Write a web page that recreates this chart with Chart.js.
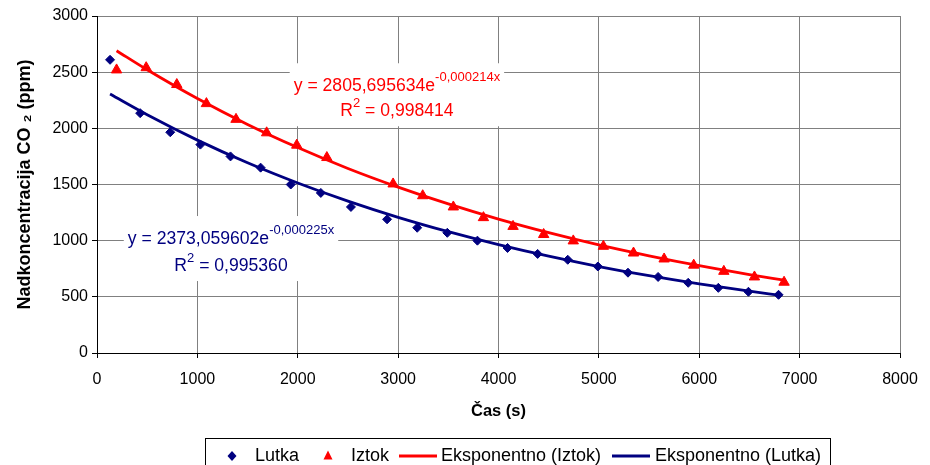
<!DOCTYPE html>
<html><head><meta charset="utf-8">
<script src="https://cdn.jsdelivr.net/npm/chart.js@4"></script>
<style>html,body{margin:0;padding:0;background:#fff}#wrap{width:930px;height:465px}</style>
</head><body><div id="wrap"><canvas id="c" width="930" height="465"></canvas></div>
<script>
// ---- data ----
const lutkaTime = [130,430,730,1030,1330,1630,1930,2230,2530,2890,3190,3490,3790,4090,4390,4690,4990,5290,5590,5890,6190,6490,6790];
const lutkaCO2  = [2610,2135,1965,1855,1750,1650,1500,1425,1300,1190,1115,1070,1000,935,882,830,770,715,677,625,580,545,518];
const iztokTime = [195,490,795,1090,1385,1690,1990,2290,2950,3245,3550,3850,4145,4450,4745,5045,5345,5650,5945,6245,6550,6845];
const iztokCO2  = [2520,2540,2390,2220,2080,1960,1850,1740,1505,1400,1300,1205,1127,1055,998,950,890,837,782,727,677,630];
// trend curves
const trendIztokTime = [195,500,1000,1500,2000,2500,3000,3500,4000,4500,5000,5500,6000,6500,6845];
const trendIztokCO2  = [2691,2521,2265,2035,1829,1643,1477,1327,1192,1071,962,865,777,698,648];
const trendLutkaTime = [130,500,1000,1500,2000,2500,3000,3500,4000,4500,5000,5500,6000,6500,6790];
const trendLutkaCO2  = [2305,2121,1895,1693,1513,1352,1208,1080,965,862,770,688,615,550,515];
// axis ticks
const xTicks = [0,1000,2000,3000,4000,5000,6000,7000,8000];
const yTicks = [0,500,1000,1500,2000,2500,3000];
// labels
const seriesNames = ['Lutka','Iztok','Eksponentno (Iztok)','Eksponentno (Lutka)'];
const eqIztok = {main:'y = 2805,695634e', sup:'-0,000214x', r:'R', rsup:'2', rrest:' = 0,998414'};
const eqLutka = {main:'y = 2373,059602e', sup:'-0,000225x', r:'R', rsup:'2', rrest:' = 0,995360'};

const RED = '#FF0000', NAVY = '#000080';
const FONT = '"Liberation Sans", Arial, sans-serif';

const toXY = (xs, ys) => xs.map((x, i) => ({x, y: ys[i]}));

const eqPlugin = {
  id: 'eqPlugin',
  afterDatasetsDraw(chart) {
    const ctx = chart.ctx, xs = chart.scales.x, ys = chart.scales.y;
    const items = [
      {eq: eqIztok, color: RED, cx: xs.getPixelForValue(2988), by: ys.getPixelForValue(2330), gap: 25},
      {eq: eqLutka, color: NAVY, cx: xs.getPixelForValue(1335), by: ys.getPixelForValue(970), gap: 27}
    ];
    items.forEach(it => {
      ctx.save();
      const mainF = '17.6px ' + FONT, supF = '13px ' + FONT;
      ctx.font = mainF; const w1 = ctx.measureText(it.eq.main).width;
      const wr = ctx.measureText(it.eq.r).width, wrr = ctx.measureText(it.eq.rrest).width;
      ctx.font = supF; const ws = ctx.measureText(it.eq.sup).width, wrs = ctx.measureText(it.eq.rsup).width;
      const W1 = w1 + ws, W2 = wr + wrs + wrr;
      const x1 = it.cx - W1 / 2, x2 = it.cx - W2 / 2;
      const b1 = it.by, b2 = it.by + it.gap;
      ctx.fillStyle = '#fff';
      ctx.fillRect(x1 - 4, b1 - 28, W1 + 8, (b2 + 10) - (b1 - 28));
      ctx.fillStyle = it.color;
      ctx.textBaseline = 'alphabetic'; ctx.textAlign = 'left';
      ctx.font = mainF; ctx.fillText(it.eq.main, x1, b1);
      ctx.font = supF; ctx.fillText(it.eq.sup, x1 + w1, b1 - 10);
      ctx.font = mainF; ctx.fillText(it.eq.r, x2, b2);
      ctx.font = supF; ctx.fillText(it.eq.rsup, x2 + wr, b2 - 9);
      ctx.font = mainF; ctx.fillText(it.eq.rrest, x2 + wr + wrs, b2);
      ctx.restore();
    });
  }
};

const legendPlugin = {
  id: 'boxLegend',
  afterDraw(chart) {
    const ctx = chart.ctx;
    ctx.save();
    ctx.strokeStyle = '#000'; ctx.lineWidth = 1;
    ctx.strokeRect(205.5, 438.5, 625, 40);
    const cy = 456;
    ctx.font = '18px ' + FONT; ctx.fillStyle = '#000'; ctx.textBaseline = 'middle'; ctx.textAlign = 'left';
    // diamond
    ctx.fillStyle = NAVY; ctx.beginPath();
    ctx.moveTo(232, cy - 5); ctx.lineTo(236.5, cy); ctx.lineTo(232, cy + 5); ctx.lineTo(227.5, cy); ctx.closePath(); ctx.fill();
    // triangle
    ctx.fillStyle = RED; ctx.beginPath();
    ctx.moveTo(328, cy - 5.5); ctx.lineTo(332.5, cy + 3.5); ctx.lineTo(323.5, cy + 3.5); ctx.closePath(); ctx.fill();
    // lines
    ctx.lineWidth = 3;
    ctx.strokeStyle = RED; ctx.beginPath(); ctx.moveTo(399, cy); ctx.lineTo(437, cy); ctx.stroke();
    ctx.strokeStyle = NAVY; ctx.beginPath(); ctx.moveTo(612, cy); ctx.lineTo(650, cy); ctx.stroke();
    ctx.fillStyle = '#000';
    ctx.fillText(seriesNames[0], 255, cy);
    ctx.fillText(seriesNames[1], 351, cy);
    ctx.fillText(seriesNames[2], 441, cy);
    ctx.fillText(seriesNames[3], 655, cy);
    ctx.restore();
  }
};

new Chart(document.getElementById('c'), {
  type: 'scatter',
  data: {
    datasets: [
      {label: seriesNames[2], data: toXY(trendIztokTime, trendIztokCO2), showLine: true, borderColor: RED, borderWidth: 2.8,
       pointRadius: 0, cubicInterpolationMode: 'monotone', order: 1},
      {label: seriesNames[3], data: toXY(trendLutkaTime, trendLutkaCO2), showLine: true, borderColor: NAVY, borderWidth: 2.8,
       pointRadius: 0, cubicInterpolationMode: 'monotone', order: 2},
      {label: seriesNames[0], data: toXY(lutkaTime, lutkaCO2), pointStyle: 'rectRot', pointRadius: 4.5, borderWidth: 1,
       backgroundColor: NAVY, borderColor: NAVY, order: 3},
      {label: seriesNames[1], data: toXY(iztokTime, iztokCO2), pointStyle: 'triangle', pointRadius: 6, borderWidth: 1,
       backgroundColor: RED, borderColor: RED, order: 4}
    ]
  },
  options: {
    responsive: false, animation: false, devicePixelRatio: 1,
    layout: {padding: {left: 0, right: 30, top: 16, bottom: 44}},
    plugins: {legend: {display: false}, tooltip: {enabled: false}},
    scales: {
      x: {
        type: 'linear', min: 0, max: 8000,
        afterBuildTicks: s => { s.ticks = xTicks.map(v => ({value: v})); },
        afterFit: s => { s.height = 68; },
        ticks: {color: '#000', font: {family: FONT, size: 16}, padding: 12, callback: v => String(v), maxRotation: 0},
        grid: {color: '#808080', lineWidth: 1, tickColor: '#000', tickLength: 5, drawTicks: true},
        border: {color: '#000', width: 1},
        title: {display: true, text: 'Čas (s)', color: '#000', font: {family: FONT, size: 16.5, weight: 'bold'}, padding: {top: 0, bottom: 0}}
      },
      y: {
        type: 'linear', min: 0, max: 3000,
        afterBuildTicks: s => { s.ticks = yTicks.map(v => ({value: v})); },
        afterFit: s => { s.width = 97; },
        ticks: {color: '#000', font: {family: FONT, size: 16}, padding: 4, callback: v => String(v)},
        grid: {color: '#808080', lineWidth: 1, tickColor: '#000', tickLength: 5, drawTicks: true},
        border: {color: '#000', width: 1},
        title: {display: true, text: 'Nadkoncentracija CO ₂ (ppm)', color: '#000', font: {family: FONT, size: 18, weight: 'bold'}, padding: {top: 14, bottom: 0}}
      }
    }
  },
  plugins: [eqPlugin, legendPlugin]
});
</script>
</body></html>
